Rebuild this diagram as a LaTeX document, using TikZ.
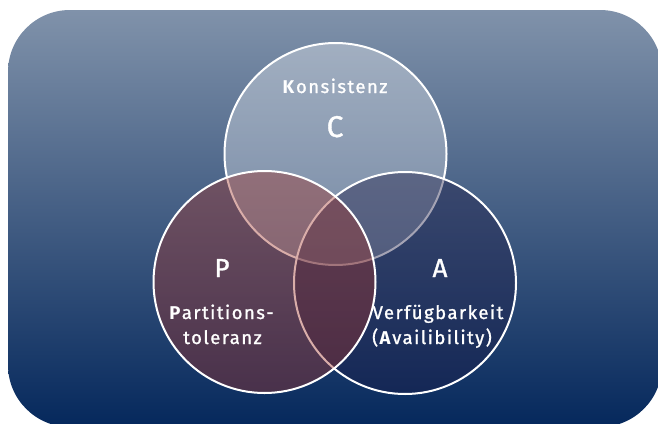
\documentclass[tikz,border=0pt]{standalone}
\usepackage{fontspec}
\setmainfont{Fira Sans}
\newfontfamily\labfont[LetterSpace=8, UprightFeatures={FakeBold=1.2}]{Fira Sans}
\definecolor{bgtop}{RGB}{128,146,170}
\definecolor{bgmid}{RGB}{72,100,138}
\definecolor{bgbot}{RGB}{5,40,92}
\definecolor{pcol}{RGB}{160,50,40}
\definecolor{acol}{RGB}{28,26,68}
\tikzset{
  setcircle/.style={draw=white, line width=2pt},
  lab/.style={text=white, inner sep=0pt, anchor=base, font=\labfont\fontsize{18.5}{20}\selectfont},
  biglab/.style={text=white, inner sep=0pt, anchor=base, font=\labfont\fontsize{26}{28}\selectfont},
}
\begin{document}
\begin{tikzpicture}[x=1pt,y=-1pt]
\useasboundingbox (0,0) rectangle (658,423);
\shade[top color=bgtop, middle color=bgmid, bottom color=bgbot, rounded corners=62pt]
  (8,10) rectangle (662,427);
% circles
\draw[setcircle, fill=white, fill opacity=0.32] (335.5,154) circle[radius=111];
\draw[setcircle, fill=acol, fill opacity=0.4] (405,283) circle[radius=111];
\draw[setcircle, fill=pcol, fill opacity=0.4] (264.5,282) circle[radius=111];
% labels
\node[lab] (kons) at (335,93) {\textbf{K}onsistenz};
\node[biglab, font=\labfont\fontsize{30}{32}\selectfont] (c) at (335,137) {C};
\node[biglab] (p) at (222,277) {P};
\node[biglab] (a) at (440,277) {A};
\node[lab] (part) at (221.5,319) {\textbf{P}artitions-};
\node[lab] (tol) at (222.5,344) {toleranz};
\node[lab] (verf) at (438,319) {Verfügbarkeit};
\node[lab] (avail) at (432,344) {(\textbf{A}vailibility)};
\end{tikzpicture}
\end{document}
